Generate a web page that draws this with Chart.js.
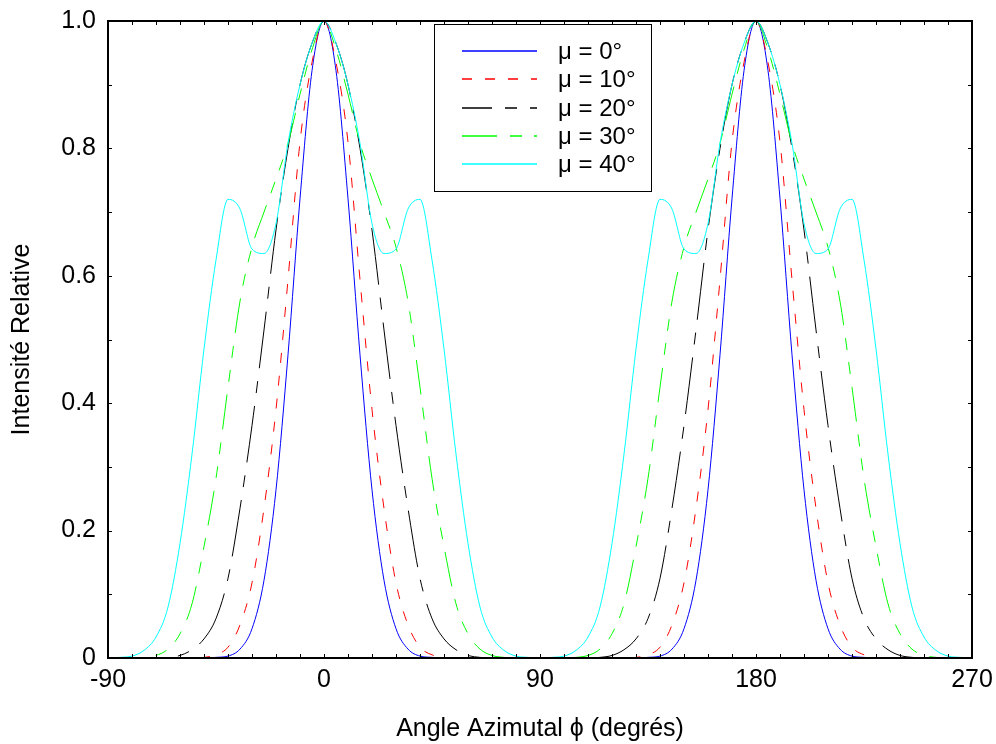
<!DOCTYPE html>
<html>
<head>
<meta charset="utf-8">
<script src="https://cdn.jsdelivr.net/npm/chart.js@4"></script>
<style>
  html, body { margin: 0; padding: 0; background: #fff; }
  #wrap { width: 996px; height: 744px; }
</style>
</head>
<body>
<div id="wrap"><canvas id="chart" width="996" height="744"></canvas></div>
<script>
/* ---- Données ---- */
const angles = [
  -90,-85,-80,-75,-70,-65,-60,-55,-50,-45,-40,-35,-30,-25,-20,-15,-10,-5,
  0,5,10,15,20,25,30,35,40,45,50,55,60,65,70,75,80,85,
  90,95,100,105,110,115,120,125,130,135,140,145,150,155,160,165,170,175,
  180,185,190,195,200,205,210,215,220,225,230,235,240,245,250,255,260,265,270
];

const mu0 = [
  0,0,0,0,0,0,0,0,0,.001,.003,.014,.046,.122,.264,.476,.721,.922,
  1,.922,.721,.476,.264,.122,.046,.014,.003,.001,0,0,0,0,0,0,0,0,
  0,0,0,0,0,0,0,0,0,.001,.003,.014,.046,.122,.264,.476,.721,.922,
  1,.922,.721,.476,.264,.122,.046,.014,.003,.001,0,0,0,0,0,0,0,0,0
];
const mu10 = [
  0,0,0,0,0,0,0,0,.001,.005,.017,.052,.118,.235,.39,.594,.81,.935,
  1,.935,.81,.594,.39,.235,.118,.052,.017,.005,.001,0,0,0,0,0,0,0,
  0,0,0,0,0,0,0,0,.001,.005,.017,.052,.118,.235,.39,.594,.81,.935,
  1,.935,.81,.594,.39,.235,.118,.052,.017,.005,.001,0,0,0,0,0,0,0,0
];
const mu20 = [
  0,0,0,0,0,.001,.004,.013,.03,.062,.125,.235,.365,.515,.672,.8,.9,.965,
  1,.965,.9,.8,.672,.515,.365,.235,.125,.062,.03,.013,.004,.001,0,0,0,0,
  0,0,0,0,0,.001,.004,.013,.03,.062,.125,.235,.365,.515,.672,.8,.9,.965,
  1,.965,.9,.8,.672,.515,.365,.235,.125,.062,.03,.013,.004,.001,0,0,0,0,0
];
const mu30 = [
  0,0,0,.001,.004,.014,.038,.085,.175,.282,.425,.56,.645,.7,.752,.808,.885,.955,
  1,.955,.885,.808,.752,.7,.645,.56,.425,.282,.175,.085,.038,.014,.004,.001,0,0,
  0,0,0,.001,.004,.014,.038,.085,.175,.282,.425,.56,.645,.7,.752,.808,.885,.955,
  1,.955,.885,.808,.752,.7,.645,.56,.425,.282,.175,.085,.038,.014,.004,.001,0,0,0
];
const mu40 = [
  0,.001,.003,.012,.033,.08,.18,.32,.485,.625,.72,.705,.642,.635,.682,.808,.9,.965,
  1,.965,.9,.808,.682,.635,.642,.705,.72,.625,.485,.32,.18,.08,.033,.012,.003,.001,
  0,.001,.003,.012,.033,.08,.18,.32,.485,.625,.72,.705,.642,.635,.682,.808,.9,.965,
  1,.965,.9,.808,.682,.635,.642,.705,.72,.625,.485,.32,.18,.08,.033,.012,.003,.001,0
];

const seriesLabels = ['\u03bc = 0\u00b0', '\u03bc = 10\u00b0', '\u03bc = 20\u00b0', '\u03bc = 30\u00b0', '\u03bc = 40\u00b0'];
const seriesValues = [mu0, mu10, mu20, mu30, mu40];
const seriesColors = ['#0000ff', '#ff0000', '#000000', '#00ff00', '#00ffff'];
const seriesDash   = [[], [10, 13], [57, 13, 12, 13], [35, 13, 12, 12, 12, 13], []];
const legendDashOffset = [0, 0, 27, 0, 0];

const xTicks = [-90, 0, 90, 180, 270];
const xTickLabels = ['-90', '0', '90', '180', '270'];
const yTicks = [0, 0.2, 0.4, 0.6, 0.8, 1.0];
const yTickLabels = ['0', '0.2', '0.4', '0.6', '0.8', '1.0'];

const FONT = "'Liberation Sans', Arial, sans-serif";

/* ---- Cadre + graduations intérieures ---- */
const framePlugin = {
  id: 'frame',
  afterDatasetsDraw(chart) {
    const { ctx, chartArea: a, scales: { x, y } } = chart;
    ctx.save();
    ctx.strokeStyle = '#000';
    ctx.lineWidth = 1;
    ctx.beginPath();
    for (let v = -90; v <= 270; v += 10) {
      const px = Math.round(x.getPixelForValue(v)) + 0.5;
      ctx.moveTo(px, a.bottom); ctx.lineTo(px, a.bottom - 4);
      ctx.moveTo(px, a.top);    ctx.lineTo(px, a.top + 4);
    }
    for (let k = 0; k <= 10; k++) {
      const py = Math.round(y.getPixelForValue(k / 10)) + 0.5;
      ctx.moveTo(a.left, py);  ctx.lineTo(a.left + 4, py);
      ctx.moveTo(a.right, py); ctx.lineTo(a.right - 4, py);
    }
    ctx.stroke();
    ctx.lineWidth = 2;
    ctx.strokeRect(a.left, a.top, a.right - a.left, a.bottom - a.top);
    ctx.restore();
  }
};

/* ---- Légende dans le cadre ---- */
const boxLegend = {
  id: 'boxLegend',
  afterDraw(chart) {
    const { ctx, chartArea: a } = chart;
    const bx = a.left + 326, by = a.top + 3, bw = 217, bh = 167;
    ctx.save();
    ctx.fillStyle = '#fff';
    ctx.fillRect(bx, by, bw, bh);
    ctx.strokeStyle = '#000';
    ctx.lineWidth = 1;
    ctx.strokeRect(bx + 0.5, by + 0.5, bw, bh);
    ctx.font = `24px ${FONT}`;
    ctx.textBaseline = 'middle';
    ctx.fillStyle = '#000';
    seriesLabels.forEach((lab, i) => {
      const ry = Math.round(by + 27 + i * 28.3);
      ctx.strokeStyle = seriesColors[i];
      ctx.lineWidth = 1.5;
      ctx.setLineDash(seriesDash[i]);
      ctx.lineDashOffset = legendDashOffset[i];
      ctx.beginPath();
      ctx.moveTo(bx + 28, ry);
      ctx.lineTo(bx + 103, ry);
      ctx.stroke();
      ctx.setLineDash([]);
      ctx.fillText(lab, bx + 124, ry + 1);
    });
    ctx.restore();
  }
};

const datasets = seriesValues.map((vals, i) => ({
  label: seriesLabels[i],
  data: angles.map((a, j) => ({ x: a, y: vals[j] })),
  borderColor: seriesColors[i],
  borderWidth: 1,
  borderDash: seriesDash[i],
  pointRadius: 0,
  fill: false,
  cubicInterpolationMode: 'monotone',
  order: seriesValues.length - i
}));

new Chart(document.getElementById('chart'), {
  type: 'line',
  data: { datasets },
  options: {
    responsive: false,
    animation: false,
    events: [],
    layout: { padding: { top: 21, right: 24, left: 0, bottom: 0 } },
    plugins: { legend: { display: false }, tooltip: { enabled: false } },
    scales: {
      x: {
        type: 'linear',
        min: -90, max: 270,
        afterBuildTicks: (s) => { s.ticks = xTicks.map(v => ({ value: v })); },
        afterFit: (s) => { s.height = 86; s.paddingLeft = 0; s.paddingRight = 0; },
        grid: { display: false, drawTicks: false },
        border: { display: false },
        ticks: {
          padding: 7,
          color: '#000',
          font: { family: FONT, size: 25 },
          maxRotation: 0,
          callback: (v, i) => xTickLabels[i]
        },
        title: {
          display: true,
          text: 'Angle Azimutal \u03d5 (degr\u00e9s)',
          color: '#000',
          font: { family: FONT, size: 25 },
          padding: { top: 0, bottom: 0 }
        }
      },
      y: {
        type: 'linear',
        min: 0, max: 1,
        afterBuildTicks: (s) => { s.ticks = yTicks.map(v => ({ value: v })); },
        afterFit: (s) => { s.width = 108; s.paddingTop = 0; s.paddingBottom = 0; },
        grid: { display: false, drawTicks: false },
        border: { display: false },
        ticks: {
          padding: 12,
          color: '#000',
          font: { family: FONT, size: 25 },
          callback: (v, i) => yTickLabels[i]
        },
        title: {
          display: true,
          text: 'Intensit\u00e9 Relative',
          color: '#000',
          font: { family: FONT, size: 25 },
          padding: { top: 7, bottom: 0 }
        }
      }
    }
  },
  plugins: [framePlugin, boxLegend]
});
</script>
</body>
</html>
